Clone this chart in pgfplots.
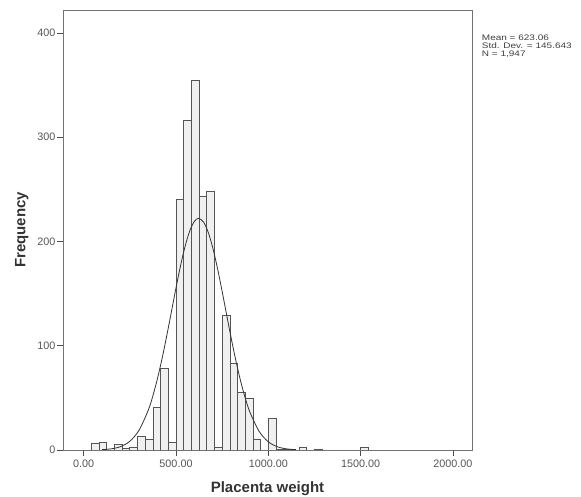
\documentclass[border=0pt]{standalone}
\usepackage{pgfplots}
\pgfplotsset{compat=1.18}
\usepackage{fontspec}
\setmainfont{Liberation Sans}
\definecolor{barfill}{RGB}{240,240,240}
\definecolor{baredge}{RGB}{85,85,85}
\definecolor{tickgray}{RGB}{85,85,85}
\begin{document}
\begin{tikzpicture}
\useasboundingbox (-63pt,-47pt) rectangle (518pt,450pt);
\begin{axis}[
  at={(0,0)}, anchor=south west,
  scale only axis, width=409pt, height=440pt,
  xmin=-112, xmax=2103, ymin=0, ymax=422,
  xtick={0,500,1000,1500,2000},
  ytick={0,100,200,300,400},
  tick pos=left, tick align=outside,
  major tick length=6pt,
  tick style={black!70, line width=0.7pt},
  axis line style={black!55, line width=0.8pt},
  /pgf/number format/assume math mode=true,
  ticklabel style={font=\fontsize{10.8}{12}\selectfont, text=tickgray},
  xticklabel style={/pgf/number format/.cd, fixed, fixed zerofill, precision=2, 1000 sep={}},
  yticklabel style={inner sep=1.5pt, /pgf/number format/.cd, fixed, precision=0, 1000 sep={}},
  xlabel={Placenta weight},
  ylabel={Frequency},
  label style={font=\bfseries\fontsize{15}{18}\selectfont, text=black!80},
  xlabel style={at={(axis description cs:0.5,0)}, anchor=base, yshift=-42.7pt},
  ylabel style={at={(axis description cs:-0.101,0.5)}, anchor=center},
]
\addplot[ybar interval, fill=barfill, draw=baredge, line width=0.7pt] coordinates {
(41.667,6) (83.333,7) (125,0) (166.667,5) (208.333,2) (250,3) (291.667,13) (333.333,10)
(375,41) (416.667,78) (458.333,7) (500,240) (541.667,316) (583.333,355) (625,243)
(666.667,248) (708.333,3) (750,129) (791.667,83) (833.333,55) (875,50) (916.667,10)
(958.333,0) (1000,30) (1041.667,1) (1083.333,1) (1125,0) (1166.667,3) (1208.333,0)
(1250,1) (1291.667,0) (1333.333,0) (1375,0) (1416.667,0) (1458.333,0) (1500,3) (1541.667,3)
};
\addplot[smooth, no markers, black!80, line width=0.8pt] coordinates {
(100,0.35) (150,1.14) (200,3.27) (250,8.35) (300,18.98) (350,38.3) (375,52.1) (400,68.8)
(425,88.1) (450,109.7) (475,132.5) (500,155.5) (525,177.1) (550,195.9) (575,210.4)
(600,219.4) (623,222.2) (650,218.4) (675,208.5) (700,193.3) (725,173.9) (750,152.0)
(775,128.9) (800,106.2) (825,85.0) (850,66.0) (875,49.8) (900,36.4) (950,17.9)
(1000,7.8) (1050,3.03) (1100,1.04) (1150,0.32)
};
\end{axis}
\begin{scope}[every node/.style={anchor=base west, inner sep=0pt, xscale=1.25, text=black!75, font=\fontsize{8}{9}\selectfont}]
\node at (418.7pt,409pt) {Mean = 623.06};
\node at (418.7pt,401.4pt) {Std. Dev. = 145.643};
\node at (418.7pt,393.8pt) {N = 1,947};
\end{scope}
\end{tikzpicture}
\end{document}
